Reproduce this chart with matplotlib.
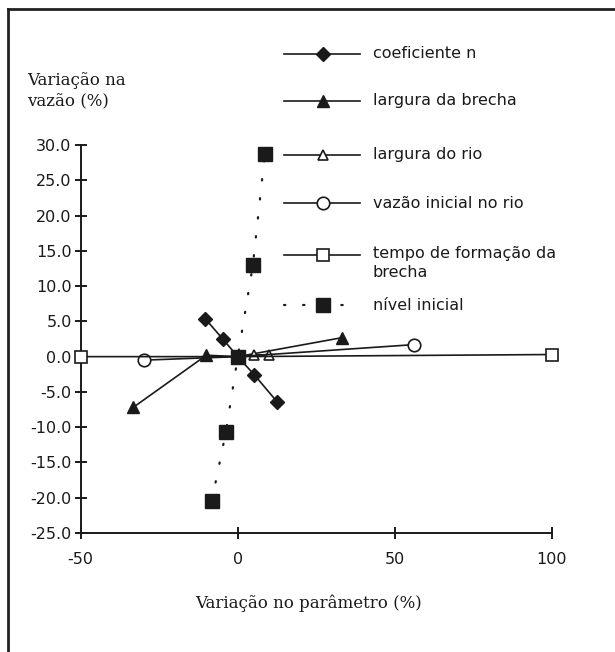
import matplotlib.pyplot as plt
from matplotlib.lines import Line2D

plt.rcParams['axes.unicode_minus'] = False

# valores (variação no parâmetro %, variação na vazão %)
coef_x = [-10.4, -4.8, 0, 5.3, 12.5]
coef_y = [5.4, 2.5, 0, -2.6, -6.4]
brecha_x = [-33.3, -10, 0, 33.3]
brecha_y = [-7.2, 0.2, 0, 2.7]
rio_x = [0, 5, 10]
rio_y = [0, 0.2, 0.3]
vazao_x = [-30, 0, 56]
vazao_y = [-0.5, 0, 1.7]
tempo_x = [-50, 0, 100]
tempo_y = [0, 0, 0.3]
nivel_x = [-8.3, -3.8, 0, 4.8, 8.6]
nivel_y = [-20.5, -10.7, 0, 13.0, 28.7]

labels = ['coeficiente n', 'largura da brecha', 'largura do rio',
          'vazão inicial no rio', 'tempo de formação da\nbrecha', 'nível inicial']
x_ticks = [-50, 0, 50, 100]
y_ticks = [-25, -20, -15, -10, -5, 0, 5, 10, 15, 20, 25, 30]

ink = '#1a1a1a'
sans = 'DejaVu Sans'
serif = 'DejaVu Serif'

W, H = 615, 652
fig = plt.figure(figsize=(W / 100, H / 100), dpi=100)
ax = fig.add_axes([80.7 / W, 1 - 533 / H, (552 - 80.7) / W, (533 - 145) / H])

solid = dict(color=ink, lw=1.2, clip_on=False)
styles = [
    dict(marker='D', ms=7, mfc=ink, mec=ink, ls='-', **solid),
    dict(marker='^', ms=9, mfc=ink, mec=ink, ls='-', **solid),
    dict(marker='^', ms=7, mfc='white', mec=ink, mew=1.2, ls='-', **solid),
    dict(marker='o', ms=9, mfc='white', mec=ink, mew=1.2, ls='-', **solid),
    dict(marker='s', ms=8.5, mfc='white', mec=ink, mew=1.2, ls='-', **solid),
    dict(marker='s', ms=9.5, mfc=ink, mec=ink, color=ink, lw=1.6,
         ls=(0, (0.6, 8)), dash_capstyle='round', clip_on=False),
]
series = [(tempo_x, tempo_y, 4), (vazao_x, vazao_y, 3), (rio_x, rio_y, 2),
          (brecha_x, brecha_y, 1), (coef_x, coef_y, 0), (nivel_x, nivel_y, 5)]
for xs, ys, k in series:
    ax.plot(xs, ys, zorder=3 + k, **styles[k])

ax.set_xlim(-50, 100)
ax.set_ylim(-25, 30)
ax.set_xticks(x_ticks)
ax.set_yticks(y_ticks)
ax.set_yticklabels([f'{v:.1f}' for v in y_ticks])
for s in ['top', 'right']:
    ax.spines[s].set_visible(False)
for s in ['left', 'bottom']:
    ax.spines[s].set_linewidth(1.4)
    ax.spines[s].set_color(ink)
ax.tick_params(direction='inout', length=9, width=1.4, color=ink,
               labelsize=11.5, labelcolor=ink)
ax.tick_params(axis='x', pad=9)
ax.tick_params(axis='y', pad=2)
for t in ax.get_xticklabels() + ax.get_yticklabels():
    t.set_family(sans)

fig.text(309 / W, 1 - 603 / H, 'Variação no parâmetro (%)', family=serif,
         fontsize=12, color=ink, ha='center', va='center')
fig.text(27 / W, 1 - 91 / H, 'Variação na\nvazão (%)', family=serif,
         fontsize=12, color=ink, ha='left', va='center', linespacing=1.35)

# legenda desenhada à mão (posições em pixels da figura)
rows = [54, 101, 155, 203, 255, 305]
for k, (yy, lab) in enumerate(zip(rows, labels)):
    st = dict(styles[k])
    st.pop('clip_on')
    fy = 1 - yy / H
    fig.add_artist(Line2D([284 / W, 360 / W], [fy, fy], transform=fig.transFigure,
                          **{**st, 'marker': None}))
    fig.add_artist(Line2D([323 / W], [fy], transform=fig.transFigure,
                          **{**st, 'ls': 'none'}))
    fig.text(373 / W, fy, lab, family=sans, fontsize=11.5, color=ink,
             ha='left', va='top' if '\n' in lab else 'center',
             linespacing=1.3)
    if '\n' in lab:
        fig.texts[-1].set_y(fy + 9 / H)

# moldura (topo e lado esquerdo)
fig.add_artist(Line2D([8 / W, 1], [1 - 9 / H, 1 - 9 / H], transform=fig.transFigure,
                      color='#222222', lw=2))
fig.add_artist(Line2D([8 / W, 8 / W], [1 - 9 / H, 0], transform=fig.transFigure,
                      color='#222222', lw=2))

fig.savefig('out.png', dpi=100)
